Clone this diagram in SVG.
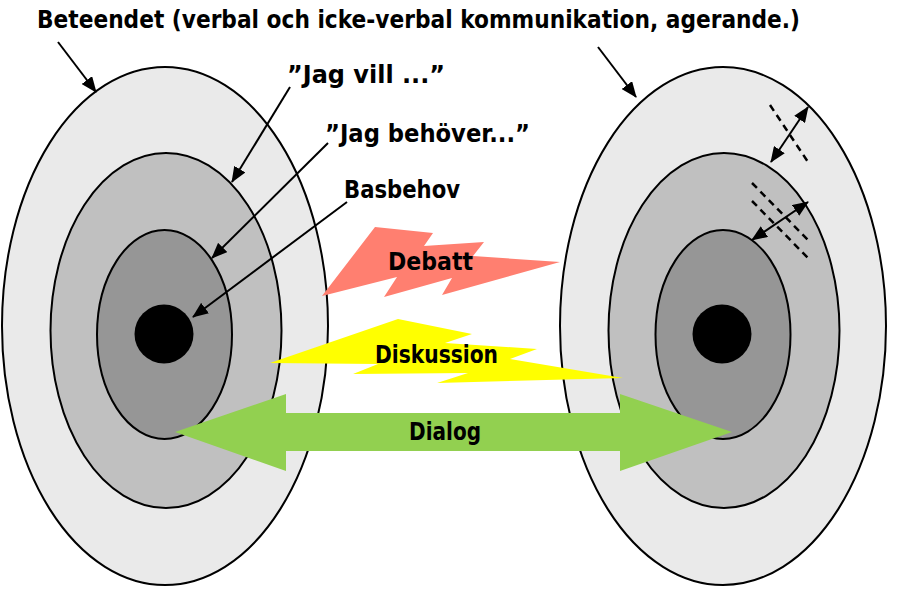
<svg xmlns="http://www.w3.org/2000/svg" width="900" height="597" viewBox="0 0 900 597">
<style>
.ring{stroke:#000;stroke-width:2}
.o{fill:#EAEAEA}.m{fill:#C0C0C0}.i{fill:#969696}
.lbl{font-family:"DejaVu Sans","Liberation Sans",sans-serif;font-weight:bold;font-size:24px;fill:#000}
.con{stroke:#000;stroke-width:2;fill:none}
.dash{stroke:#000;stroke-width:2.5;stroke-dasharray:7 5;fill:none}
</style>
<defs>
<marker id="ah" markerUnits="userSpaceOnUse" markerWidth="16" markerHeight="13" refX="15" refY="6.5" orient="auto-start-reverse">
<path d="M0,0 L16,6.5 L0,13 z" fill="#000"/>
</marker>
</defs>
<rect width="900" height="597" fill="#fff"/>
<g id="left-person">
<ellipse class="ring o" cx="165" cy="326" rx="163" ry="259"/>
<ellipse class="ring m" cx="166" cy="330.5" rx="115.5" ry="177.5"/>
<ellipse class="ring i" cx="164.5" cy="334.5" rx="67.5" ry="104.5"/>
<circle cx="164" cy="334" r="29.5" fill="#000"/>
</g>
<g id="right-person">
<ellipse class="ring o" cx="723" cy="326" rx="163" ry="259"/>
<ellipse class="ring m" cx="724" cy="330.5" rx="115.5" ry="177.5"/>
<ellipse class="ring i" cx="723" cy="334.5" rx="67.5" ry="104.5"/>
<circle cx="722" cy="334" r="29.5" fill="#000"/>
<line class="dash" x1="770" y1="105" x2="808" y2="162"/>
<line class="dash" x1="752" y1="183" x2="808" y2="240"/>
<line class="dash" x1="752" y1="201" x2="808" y2="258"/>
</g>
<g id="debatt">
<polygon fill="#FF7F70" points="322,296 375,227 433,233 424,246 484,242 473,256 560,262 442,295 452,278 384,297 397,277"/>
<text class="lbl" x="388" y="270" textLength="85" lengthAdjust="spacingAndGlyphs">Debatt</text>
</g>
<g id="diskussion">
<polygon fill="#FFFF00" points="270,363 398,319 472,334 445,343 537,349 510,359 623,378 437,383 468,373 353,374 378,364"/>
<text class="lbl" x="375" y="363" textLength="123" lengthAdjust="spacingAndGlyphs">Diskussion</text>
</g>
<g id="dialog">
<polygon fill="#92D050" points="175,432 286,394 286,413 620,413 620,394 732,432 620,471 620,451 286,451 286,471"/>
<text class="lbl" x="409" y="440" textLength="72" lengthAdjust="spacingAndGlyphs">Dialog</text>
</g>
<g id="labels">
<text class="lbl" x="37" y="28" textLength="763" lengthAdjust="spacingAndGlyphs">Beteendet (verbal och icke-verbal kommunikation, agerande.)</text>
<text class="lbl" x="287" y="83" textLength="158" lengthAdjust="spacingAndGlyphs">”Jag vill ...”</text>
<text class="lbl" x="325" y="142" textLength="205" lengthAdjust="spacingAndGlyphs">”Jag behöver...”</text>
<text class="lbl" x="344" y="198" textLength="116" lengthAdjust="spacingAndGlyphs">Basbehov</text>
</g>
<g id="connectors">
<line class="con" x1="58" y1="42" x2="96" y2="92" marker-end="url(#ah)"/>
<line class="con" x1="598" y1="47" x2="636" y2="97" marker-end="url(#ah)"/>
<line class="con" x1="290" y1="87" x2="232" y2="182" marker-end="url(#ah)"/>
<line class="con" x1="328" y1="143" x2="212" y2="258" marker-end="url(#ah)"/>
<line class="con" x1="347" y1="202" x2="193" y2="317" marker-end="url(#ah)"/>
<line class="con" x1="808" y1="107" x2="771" y2="162" marker-start="url(#ah)" marker-end="url(#ah)"/>
<line class="con" x1="808" y1="202" x2="752" y2="240" marker-start="url(#ah)" marker-end="url(#ah)"/>
</g>
</svg>
